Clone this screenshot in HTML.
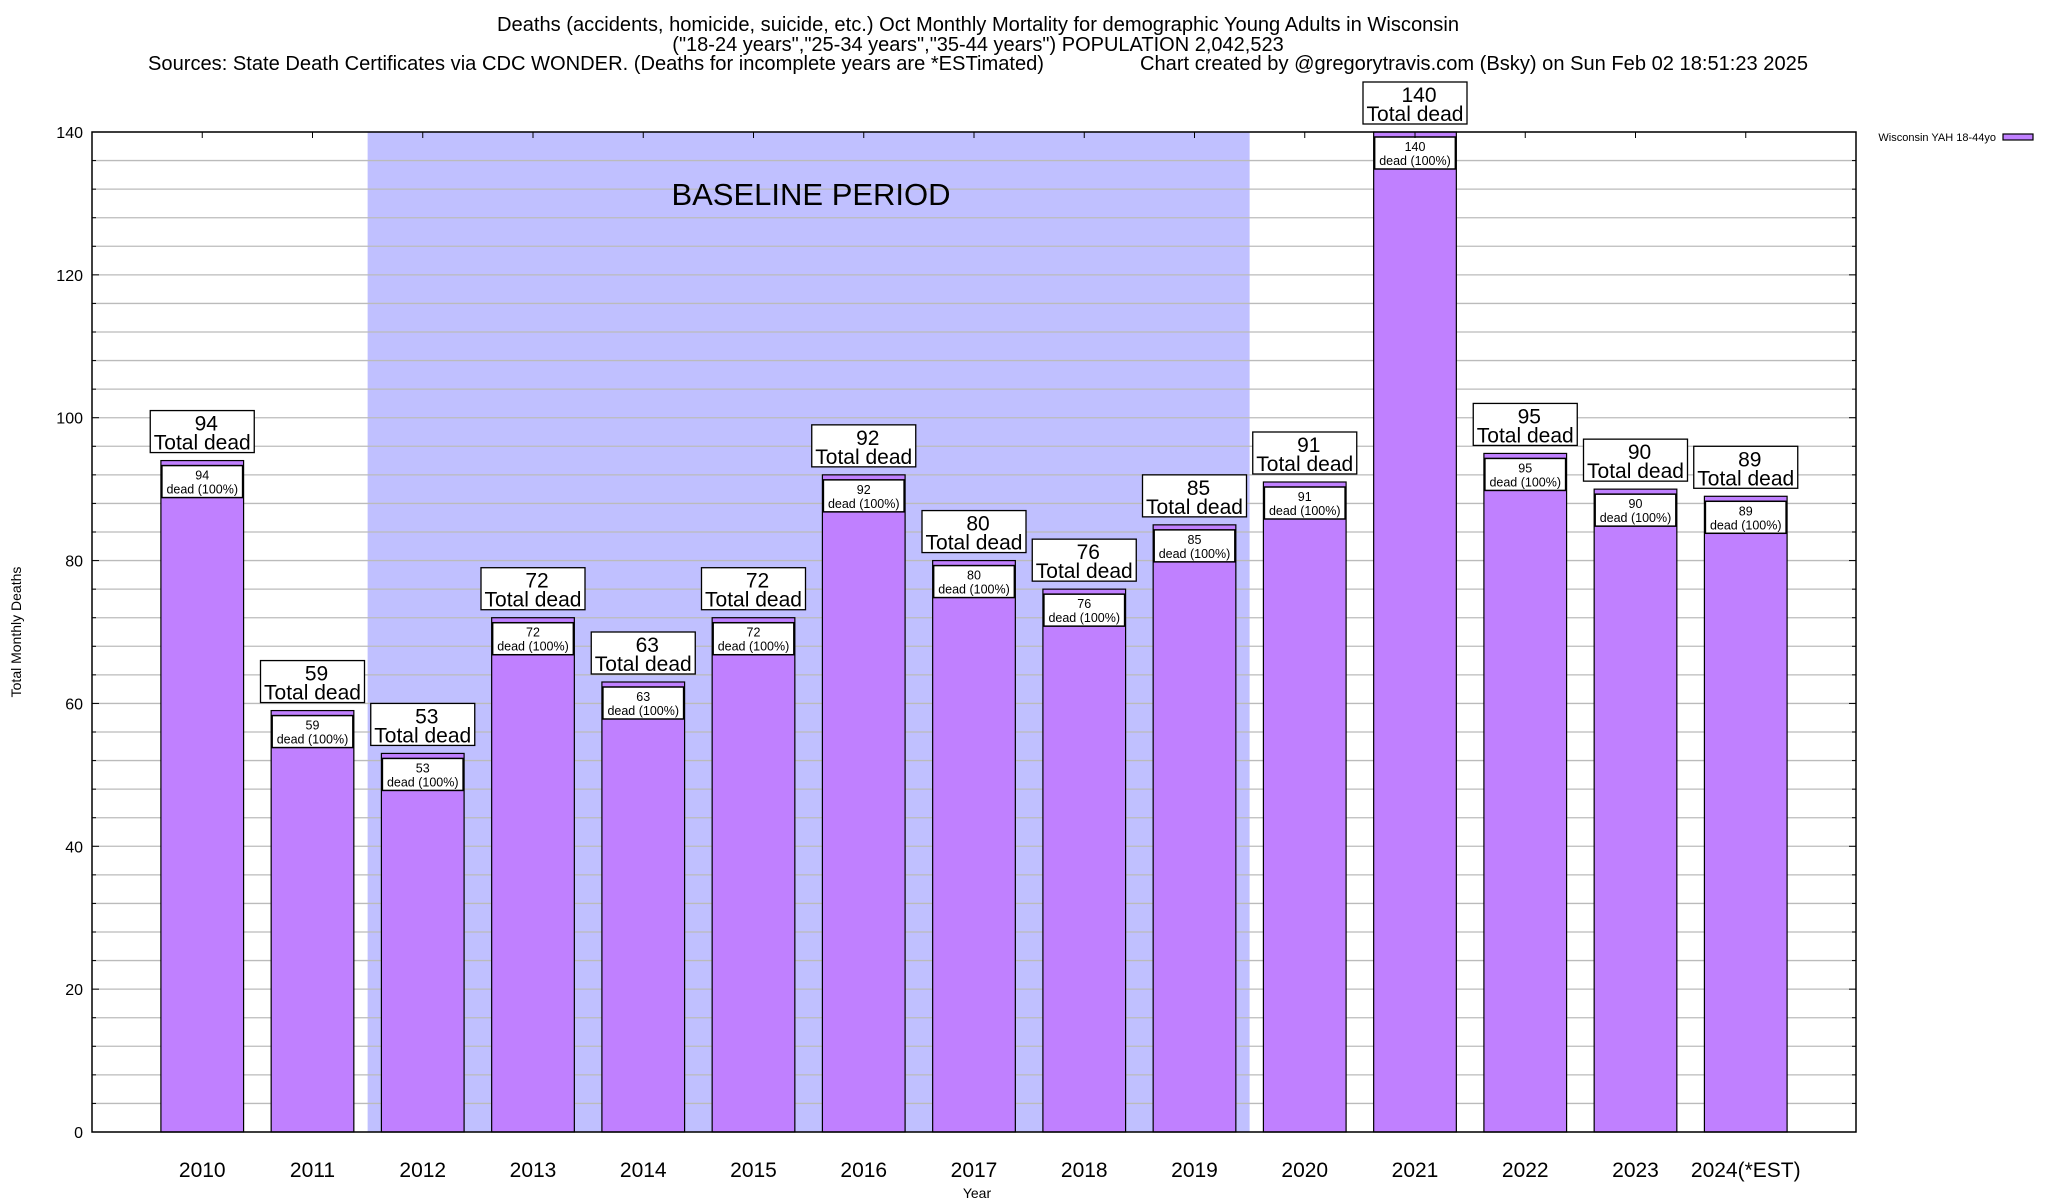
<!DOCTYPE html>
<html><head><meta charset="utf-8"><style>
html,body{margin:0;padding:0;background:#fff;}
svg{display:block;font-family:"Liberation Sans",Arial,sans-serif;}
</style></head><body>
<svg id="chart" width="2048" height="1200" viewBox="0 0 2048 1200" xmlns="http://www.w3.org/2000/svg">
<g font-size="20" text-anchor="middle" fill="#000">
<text x="978" y="31" textLength="962" lengthAdjust="spacingAndGlyphs">Deaths (accidents, homicide, suicide, etc.) Oct Monthly Mortality for demographic Young Adults in Wisconsin</text>
<text x="978" y="51">("18-24 years","25-34 years","35-44 years") POPULATION 2,042,523</text>
<text x="148" y="70" text-anchor="start" textLength="896" lengthAdjust="spacingAndGlyphs">Sources: State Death Certificates via CDC WONDER. (Deaths for incomplete years are *ESTimated)</text>
<text x="1140" y="70" text-anchor="start" textLength="668" lengthAdjust="spacingAndGlyphs">Chart created by @gregorytravis.com (Bsky) on Sun Feb 02 18:51:23 2025</text>
</g>
<g id="plot"></g>
</svg>
<script>
const categories = ["2010","2011","2012","2013","2014","2015","2016","2017","2018","2019","2020","2021","2022","2023","2024(*EST)"];
const deaths = [94,59,53,72,63,72,92,80,76,85,91,140,95,90,89];
const yTicks = [0,20,40,60,80,100,120,140];
const baselineRange = [1.5, 9.5];

const NS = "http://www.w3.org/2000/svg";
const L = 92, R = 1856, T = 132, B = 1132;
const xMin = -1, xMax = 15, yMin = 0, yMax = 140;
function xs(v){ return L + (v - xMin) / (xMax - xMin) * (R - L); }
function ys(v){ return B - (v - yMin) / (yMax - yMin) * (B - T); }
const g = document.getElementById('plot');
function mk(tag, attrs, parent){ const e = document.createElementNS(NS, tag); for (const k in attrs) e.setAttribute(k, attrs[k]); (parent||g).appendChild(e); return e; }

const bl = mk('rect', {x: xs(baselineRange[0]), y: T, width: xs(baselineRange[1]) - xs(baselineRange[0]), height: B - T, fill: '#c0c0ff'});



for (let v = 0; v <= yMax; v += 4) {
  const y = ys(v);
  const gl = mk('line', {x1: L, x2: R, y1: y, y2: y, stroke: '#bbbbbb', 'stroke-width': 1.3});
  
  
  const isMajor = v % 20 === 0;
  const tl = mk('line', {x1: L, x2: L + (isMajor ? 7 : 4), y1: y, y2: y, stroke: '#000', 'stroke-width': 1});
  
  
  const tr = mk('line', {x1: R, x2: R - (isMajor ? 7 : 4), y1: y, y2: y, stroke: '#000', 'stroke-width': 1});
  
  
}

const blt = mk('text', {x: 811, y: 205, 'font-size': 31, 'text-anchor': 'middle'});
blt.textContent = 'BASELINE PERIOD';



yTicks.forEach(v => {
  const t = mk('text', {x: 83, y: ys(v) + 6, 'font-size': 16, 'text-anchor': 'end'});
  t.textContent = v;
  
  
});

const bw = 0.75;
categories.forEach((c, i) => {
  const v = deaths[i];
  const x0 = xs(i - bw/2), x1 = xs(i + bw/2), cx = xs(i);
  const bar = mk('rect', {x: x0, y: ys(v), width: x1 - x0, height: B - ys(v), fill: '#c080ff', stroke: '#000', 'stroke-width': 1.2});
  
  
  const ib = mk('rect', {x: x0 + 1, y: ys(v) + 5, width: x1 - x0 - 2, height: 32, fill: '#fff', stroke: '#000', 'stroke-width': 1.5});
  
  
  const it1 = mk('text', {x: cx, y: ys(v) + 19, 'font-size': 12.5, 'text-anchor': 'middle'});
  it1.textContent = v;
  
  
  const it2 = mk('text', {x: cx, y: ys(v) + 33, 'font-size': 12.5, 'text-anchor': 'middle'});
  it2.textContent = 'dead (100%)';
  
  
  const tb = mk('rect', {x: cx - 52, y: ys(v) - 50, width: 104, height: 42, fill: '#fff', stroke: '#000', 'stroke-width': 1.3});
  
  
  const t1 = mk('text', {x: cx + 4, y: ys(v) - 30, 'font-size': 21, 'text-anchor': 'middle'});
  t1.textContent = v;
  
  
  const t2 = mk('text', {x: cx, y: ys(v) - 11, 'font-size': 21, 'text-anchor': 'middle'});
  t2.textContent = 'Total dead';
  
  
  const xt = mk('line', {x1: cx, x2: cx, y1: T, y2: T + 6, stroke: '#000', 'stroke-width': 1});
  
  
  const xl = mk('text', {x: cx, y: 1177, 'font-size': 21, 'text-anchor': 'middle'});
  xl.textContent = c;
  
  
});

const fr = mk('rect', {x: L, y: T, width: R - L, height: B - T, fill: 'none', stroke: '#000', 'stroke-width': 1.5});



const yl = mk('text', {x: 0, y: 0, 'font-size': 14, 'text-anchor': 'middle', transform: 'translate(21,632) rotate(-90)'});
yl.textContent = 'Total Monthly Deaths';


const xlab = mk('text', {x: 977, y: 1198, 'font-size': 14, 'text-anchor': 'middle'});
xlab.textContent = 'Year';



const lt = mk('text', {x: 1996, y: 141, 'font-size': 11, 'text-anchor': 'end'});
lt.textContent = 'Wisconsin YAH 18-44yo';


const ls = mk('rect', {x: 2003, y: 134, width: 30, height: 6, fill: '#c080ff', stroke: '#000', 'stroke-width': 1.2});


</script>
</body></html>
